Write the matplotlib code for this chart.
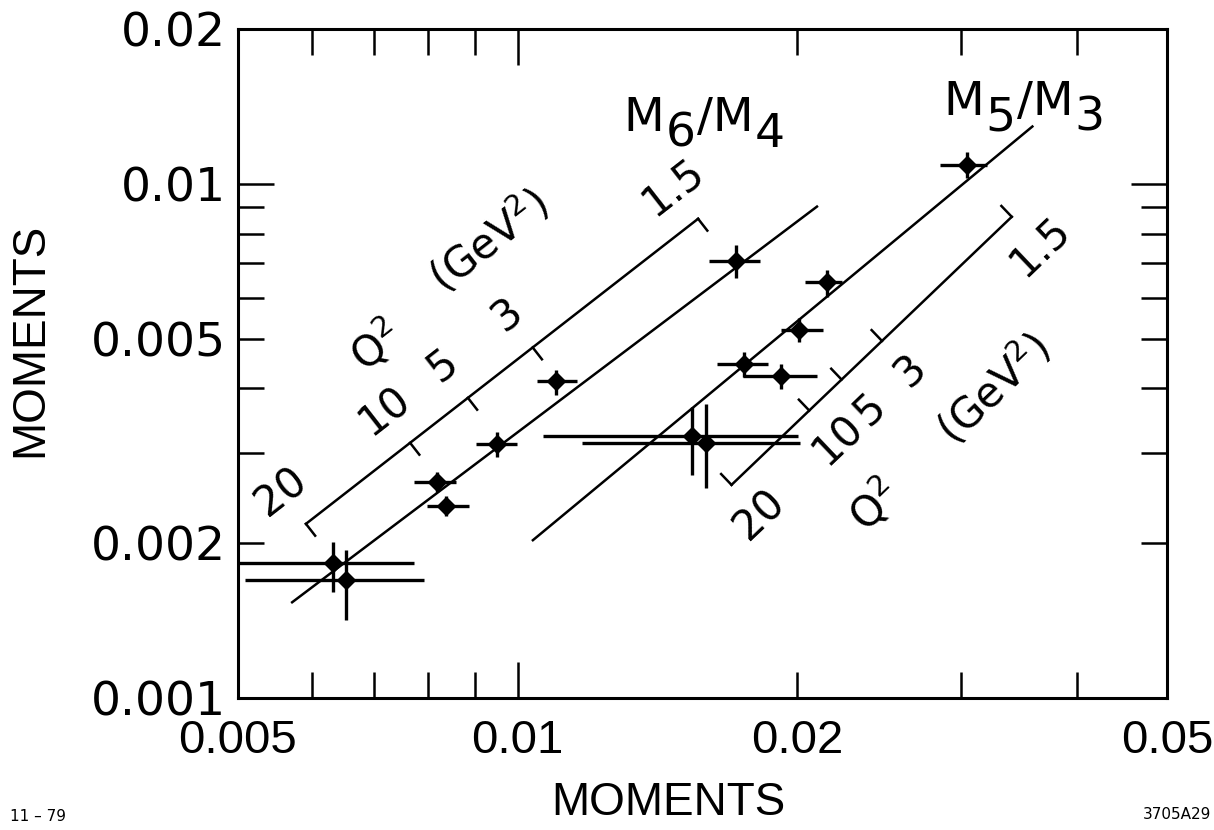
import numpy as np
import matplotlib
matplotlib.use("Agg")
import matplotlib.pyplot as plt
from matplotlib import font_manager
from matplotlib.ticker import NullLocator

# ---- data: M6/M4 (higher vs lower moment) ----
m64_x = [0.00633, 0.00654, 0.00818, 0.00838, 0.00951, 0.01101, 0.01720]
m64_x_lo = [0.0049, 0.00509, 0.00774, 0.00798, 0.00902, 0.01048, 0.01607]
m64_x_hi = [0.00774, 0.00792, 0.00859, 0.00887, 0.00999, 0.01159, 0.01823]
m64_y = [0.00183, 0.00170, 0.00263, 0.00236, 0.00312, 0.00414, 0.00708]
m64_y_lo = [0.00161, 0.00142, 0.00252, 0.00226, 0.00294, 0.00389, 0.00656]
m64_y_hi = [0.00201, 0.00194, 0.00275, 0.00247, 0.00329, 0.00435, 0.00761]

# ---- data: M5/M3 ----
m53_x = [0.03049, 0.02152, 0.02010, 0.01754, 0.01919, 0.01541, 0.01594]
m53_x_lo = [0.02848, 0.02039, 0.01919, 0.01638, 0.01750, 0.01064, 0.01173]
m53_x_hi = [0.03201, 0.02237, 0.02131, 0.01859, 0.02100, 0.02005, 0.02015]
m53_y = [0.01089, 0.00645, 0.00520, 0.00447, 0.00423, 0.00323, 0.00313]
m53_y_lo = [0.01027, 0.00603, 0.00493, 0.00421, 0.00399, 0.00272, 0.00256]
m53_y_hi = [0.01154, 0.00680, 0.00549, 0.00471, 0.00447, 0.00368, 0.00373]

# ---- QCD prediction lines (end points) ----
m64_fit_x = [0.005704, 0.02105]
m64_fit_y = [0.00153, 0.00906]
m53_fit_x = [0.01036, 0.0359]
m53_fit_y = [0.00202, 0.01297]

# ---- Q^2 scales drawn beside each line ----
q2_labels = ['20', '10', '5', '3', '1.5']
m64_scale_x = [0.005917, 0.00766, 0.00884, 0.01038, 0.01564]
m64_scale_end_y = [0.002181, 0.00855]
m53_scale_x = [0.01699, 0.0206, 0.02232, 0.02467, 0.03403]
m53_scale_end_y = [0.002597, 0.008626]

# ---- axis ticks ----
xtick_vals = [0.005, 0.006, 0.007, 0.008, 0.009, 0.01, 0.02, 0.03, 0.04, 0.05]
xtick_labels = ['0.005', '', '', '', '', '0.01', '0.02', '', '', '0.05']
ytick_vals = [0.001, 0.002, 0.003, 0.004, 0.005, 0.006, 0.007, 0.008, 0.009, 0.01, 0.02]
ytick_labels = ['0.001', '0.002', '', '', '0.005', '', '', '', '', '0.01', '0.02']

# narrow face for the axis titles and x tick labels
names = {f.name for f in font_manager.fontManager.ttflist}
if 'Liberation Sans Narrow' in names:
    narrow, nx_size, lab_size = 'Liberation Sans Narrow', 42, 38
else:
    narrow, nx_size, lab_size = 'Liberation Sans', 34, 33
plt.rcParams['font.family'] = ['DejaVu Sans']
plt.rcParams['mathtext.fontset'] = 'dejavusans'

W, H = 1214, 830
fig = plt.figure(figsize=(W / 100, H / 100), dpi=100)
L, R, T, B = 238, 1167, 29, 698
ax = fig.add_axes([L / W, 1 - B / H, (R - L) / W, (B - T) / H])
ax.set_xscale('log')
ax.set_yscale('log')
ax.set_xlim(0.005, 0.05)
ax.set_ylim(0.001, 0.02)

for s in ax.spines.values():
    s.set_linewidth(2.2)

ax.set_xticks(xtick_vals)
ax.set_xticklabels(xtick_labels, fontfamily=narrow, fontsize=nx_size)
ax.set_yticks(ytick_vals)
ax.set_yticklabels(ytick_labels, fontsize=34)
ax.xaxis.set_minor_locator(NullLocator())
ax.yaxis.set_minor_locator(NullLocator())
ax.tick_params(which='both', direction='in', top=True, right=True,
               length=19, width=1.8, colors='black')
ax.tick_params(axis='x', pad=15)
ax.tick_params(axis='y', pad=9)
for axis, vals in ((ax.xaxis, xtick_vals), (ax.yaxis, ytick_vals)):
    for tk, v in zip(axis.get_major_ticks(), vals):
        if np.isclose(v, 0.01):
            tk.tick1line.set_markersize(26)
            tk.tick2line.set_markersize(26)

ax.set_xlabel('MOMENTS', fontfamily=narrow, fontsize=lab_size, va='center')
ax.xaxis.set_label_coords((668 - L) / (R - L), (B - 803) / (B - T))
ax.set_ylabel('MOMENTS', fontfamily=narrow, fontsize=lab_size, va='center')
ax.yaxis.set_label_coords((30 - L) / (R - L), (B - 340) / (B - T))

# prediction lines
ax.plot(m64_fit_x, m64_fit_y, color='black', lw=1.8, solid_capstyle='butt')
ax.plot(m53_fit_x, m53_fit_y, color='black', lw=1.8, solid_capstyle='butt')

# data points with error bars
for xs, xl, xh, ys, yl, yh in ((m64_x, m64_x_lo, m64_x_hi, m64_y, m64_y_lo, m64_y_hi),
                               (m53_x, m53_x_lo, m53_x_hi, m53_y, m53_y_lo, m53_y_hi)):
    xs, xl, xh = map(np.asarray, (xs, xl, xh))
    ys, yl, yh = map(np.asarray, (ys, yl, yh))
    ax.errorbar(xs, ys, xerr=[xs - xl, xh - xs], yerr=[ys - yl, yh - ys],
                fmt='D', ms=9, color='black', ecolor='black',
                elinewidth=2.4, capsize=0, zorder=3)


def to_px(x, y):
    return ax.transData.transform((x, y))


def to_data(p):
    return ax.transData.inverted().transform(p)


def q2_scale(xs, y_ends, side, q2_frac, gev_frac, q2_off, gev_off):
    xs = np.asarray(xs)
    lx0, lx1 = np.log10(xs[0]), np.log10(xs[-1])
    ly0, ly1 = np.log10(y_ends[0]), np.log10(y_ends[1])
    ys = 10 ** (ly0 + (np.log10(xs) - lx0) / (lx1 - lx0) * (ly1 - ly0))
    ax.plot([xs[0], xs[-1]], [ys[0], ys[-1]], color='black', lw=1.8)
    p0, p1 = to_px(xs[0], ys[0]), to_px(xs[-1], ys[-1])
    d = (p1 - p0) / np.hypot(*(p1 - p0))
    n = side * np.array([d[1], -d[0]])
    ang = np.degrees(np.arctan2(d[1], d[0]))
    for x, y, lab in zip(xs, ys, q2_labels):
        p = to_px(x, y)
        q = to_data(p + n * 15)
        ax.plot([x, q[0]], [y, q[1]], color='black', lw=1.8)
        c = to_data(p - n * 41)
        ax.text(c[0], c[1], lab, fontsize=30, rotation=ang,
                rotation_mode='anchor', ha='center', va='center')
    c = to_data(p0 + q2_frac * (p1 - p0) - n * q2_off)
    ax.text(c[0], c[1], 'Q$^2$', fontsize=30, rotation=ang,
            rotation_mode='anchor', ha='center', va='center')
    c = to_data(p0 + gev_frac * (p1 - p0) - n * gev_off)
    ax.text(c[0], c[1], '(GeV$^2$)', fontsize=30, rotation=ang,
            rotation_mode='anchor', ha='center', va='center')


q2_scale(m64_scale_x, m64_scale_end_y, 1, 0.33, 0.64, 98, 111)
q2_scale(m53_scale_x, m53_scale_end_y, -1, 0.23, 0.66, 113, 112)


def ratio_label(x, y, hi, lo):
    kw = dict(fontsize=34, textcoords='offset points', va='bottom', ha='left')
    t = ax.text(x, y, 'M', fontsize=34, va='bottom', ha='left')
    t = ax.annotate(hi, xy=(1, 0), xycoords=t, xytext=(1, -11), **kw)
    t = ax.annotate('/M', xy=(1, 0), xycoords=t, xytext=(1, 11), **kw)
    ax.annotate(lo, xy=(1, 0), xycoords=t, xytext=(1, -11), **kw)


ratio_label(0.01299, 0.0121, '6', '4')
ratio_label(0.02869, 0.0130, '5', '3')

fig.text(10 / W, 1 - 816 / H, '11 \u2013 79', fontsize=11, va='center', ha='left')
fig.text(1211 / W, 1 - 814 / H, '3705A29', fontsize=11, va='center', ha='right')

fig.savefig('out.png', dpi=100)
